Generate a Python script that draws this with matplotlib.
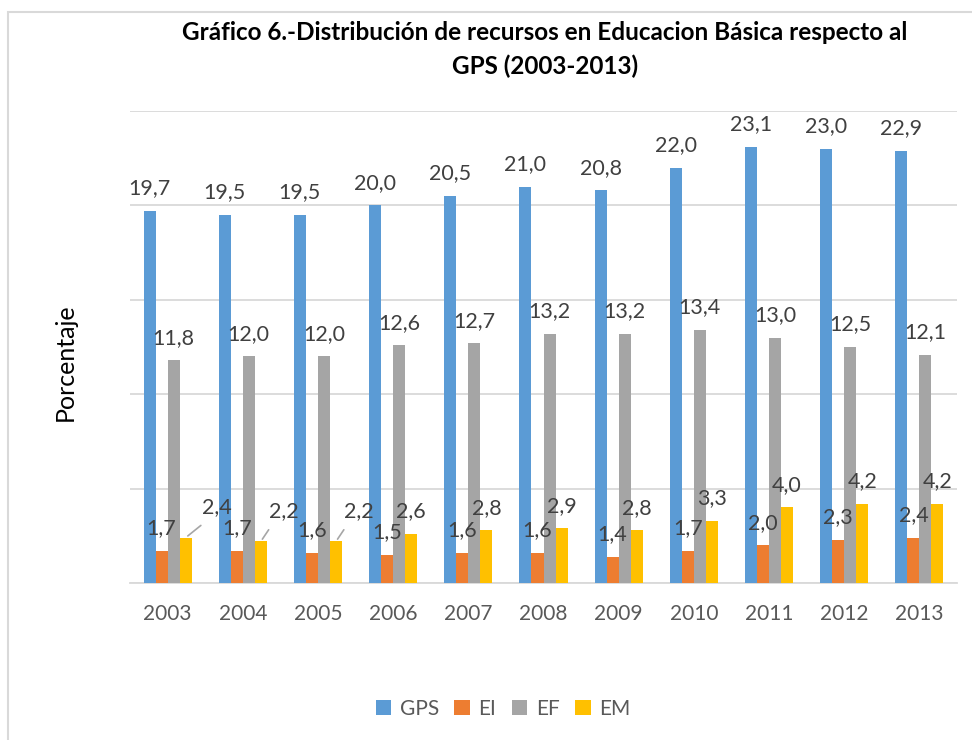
import numpy as np
import matplotlib.pyplot as plt
from matplotlib.patches import Patch, Rectangle

plt.rcParams['font.family'] = ['Lato', 'DejaVu Sans']

# datos
anios = ['2003', '2004', '2005', '2006', '2007', '2008', '2009', '2010', '2011', '2012', '2013']
gps = [19.7, 19.5, 19.5, 20.0, 20.5, 21.0, 20.8, 22.0, 23.1, 23.0, 22.9]
ei = [1.7, 1.7, 1.6, 1.5, 1.6, 1.6, 1.4, 1.7, 2.0, 2.3, 2.4]
ef = [11.8, 12.0, 12.0, 12.6, 12.7, 13.2, 13.2, 13.4, 13.0, 12.5, 12.1]
em = [2.4, 2.2, 2.2, 2.6, 2.8, 2.9, 2.8, 3.3, 4.0, 4.2, 4.2]
series = ['GPS', 'EI', 'EF', 'EM']
colores = ['#5B9BD5', '#ED7D31', '#A5A5A5', '#FFC000']

fig = plt.figure(figsize=(9.72, 7.40), dpi=100)
# borde del area del grafico
fig.patches.append(Rectangle((8/972, -0.1), 1.2, 1 - 12/740 + 0.1, transform=fig.transFigure,
                             fill=False, edgecolor='#d9d9d9', linewidth=1.5))

ax = fig.add_axes([130/972, 1 - 583/740, 827/972, 472/740])
x = np.arange(len(anios))
w = 0.16
txt_color = '#404040'

for i, (vals, c) in enumerate(zip([gps, ei, ef, em], colores)):
    pos = x + (i - 1.5) * w
    ax.bar(pos, vals, width=w, color=c, zorder=3)
    for j, (p, v) in enumerate(zip(pos, vals)):
        lab = ('%.1f' % v).replace('.', ',')
        if i == 3 and j < 3:
            # etiquetas movidas con linea guia
            dx = [16, 8, 8][j]
            ax.annotate(lab, (p, v), xytext=(dx * 0.72, 26 * 0.72 - 4), textcoords='offset points',
                        ha='left', va='bottom', fontsize=15.5, color=txt_color, zorder=5)
            ax.annotate('', (p, v), xytext=(dx * 0.72 + 1, 14 * 0.72), textcoords='offset points',
                        arrowprops=dict(arrowstyle='-', color='#a6a6a6', lw=1.2))
            continue
        ax.annotate(lab, (p, v), xytext=(0, 9), textcoords='offset points',
                    ha='center', va='bottom', fontsize=15.5, color=txt_color, zorder=5)

ax.set_xlim(-0.5, len(anios) - 0.5)
ax.set_ylim(0, 25)
ax.set_yticks(np.arange(0, 26, 5))
ax.set_yticklabels([])
ax.set_xticks(x)
ax.set_xticklabels(anios, fontsize=15, color='#595959')
ax.tick_params(axis='both', length=0)
ax.tick_params(axis='x', pad=15)
ax.grid(axis='y', color='#d9d9d9', linewidth=1.3, zorder=0)
for s in ['top', 'right', 'left']:
    ax.spines[s].set_visible(False)
ax.spines['bottom'].set_color('#d9d9d9')
ax.spines['bottom'].set_linewidth(1.3)

fig.text(65/972, 1 - 362/740, 'Porcentaje', rotation=90, ha='center', va='center',
         fontsize=18, color='#000000')

fig.text(545/972, 1 - 33/740, 'Gráfico 6.-Distribución de recursos en Educacion Básica respecto al',
         ha='center', va='center', fontsize=17.5, fontweight='bold', color='#000000')
fig.text(545/972, 1 - 66/740, 'GPS (2003-2013)',
         ha='center', va='center', fontsize=17.5, fontweight='bold', color='#000000')

handles = [Patch(facecolor=c, edgecolor='none') for c in colores]
fig.legend(handles, series, loc='center', bbox_to_anchor=(503/972, 1 - 709/740), ncol=4,
           frameon=False, fontsize=15, handlelength=0.75, handleheight=0.75,
           handletextpad=0.4, columnspacing=0.75, labelcolor='#595959')

fig.savefig('out.png', dpi=100)
